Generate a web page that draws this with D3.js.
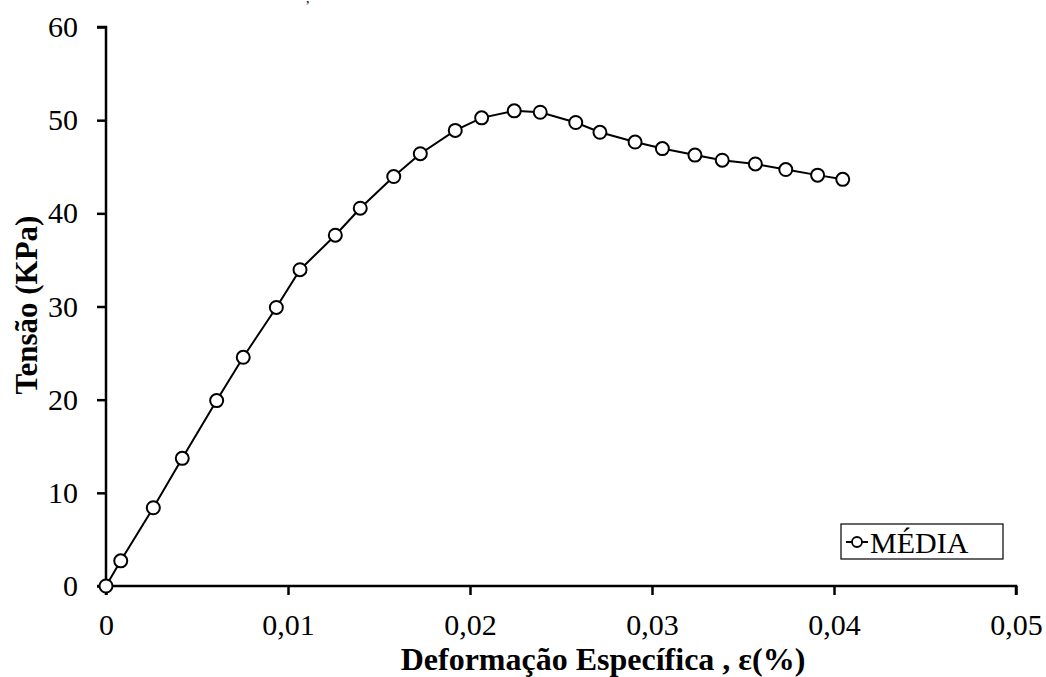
<!DOCTYPE html>
<html>
<head>
<meta charset="utf-8">
<script src="https://cdn.jsdelivr.net/npm/d3@7"></script>
<style>
  body { margin: 0; background: #fff; }
</style>
</head>
<body>
<div id="chart"></div>
<script>
// deformação específica (strain) and tensão (stress, KPa)
const strain = [0, 0.00081, 0.0026, 0.00419, 0.00608, 0.00754, 0.00936, 0.01066, 0.0126, 0.01397,
  0.01581, 0.01727, 0.01919, 0.02064, 0.02243, 0.02386, 0.02581, 0.02714, 0.02907, 0.03057,
  0.03236, 0.03386, 0.03568, 0.03735, 0.0391, 0.04048];
const stress = [0, 2.7, 8.4, 13.7, 19.9, 24.55, 29.9, 33.95, 37.65, 40.55,
  43.95, 46.4, 48.9, 50.25, 51.0, 50.85, 49.75, 48.7, 47.65, 46.95,
  46.25, 45.7, 45.3, 44.7, 44.1, 43.65];
const xTicks = [0, 0.01, 0.02, 0.03, 0.04, 0.05];
const yTicks = [0, 10, 20, 30, 40, 50, 60];
const seriesName = 'MÉDIA';

const data = strain.map((s, i) => ({ x: s, y: stress[i] }));

const W = 1046, H = 677;
const margin = { top: 27, right: 30, bottom: 91, left: 106 };
const width = W - margin.left - margin.right;
const height = H - margin.top - margin.bottom;
const font = '"Liberation Serif", "Times New Roman", serif';

const svg = d3.select('#chart').append('svg')
  .attr('width', W).attr('height', H)
  .style('font-family', font);

const g = svg.append('g').attr('transform', `translate(${margin.left},${margin.top})`);

const x = d3.scaleLinear().domain([0, 0.05]).range([0, width]);
const y = d3.scaleLinear().domain([0, 60]).range([height, 0]);

const fmt = d => d === 0 ? '0' : d3.format('.2f')(d).replace('.', ',');

g.append('g').attr('transform', `translate(0,${height})`)
  .call(d3.axisBottom(x).tickValues(xTicks).tickFormat(fmt).tickSize(9).tickPadding(19))
  .call(a => a.select('.domain').attr('stroke', '#000').attr('stroke-width', 2.5)
    .attr('d', `M0,9V0H${width}V9`))
  .call(a => a.selectAll('.tick line').attr('stroke', '#000').attr('stroke-width', 2.5))
  .call(a => a.selectAll('.tick text').attr('fill', '#000').attr('font-size', '30px').attr('font-family', font));

g.append('g')
  .call(d3.axisLeft(y).tickValues(yTicks).tickSize(9).tickPadding(19))
  .call(a => a.select('.domain').attr('stroke', '#000').attr('stroke-width', 2.5)
    .attr('d', `M-9,0H0V${height}H-9`))
  .call(a => a.selectAll('.tick line').attr('stroke', '#000').attr('stroke-width', 2.5))
  .call(a => a.selectAll('.tick text').attr('fill', '#000').attr('font-size', '30px').attr('font-family', font));

// axis titles
svg.append('text')
  .attr('x', 603).attr('y', 670)
  .attr('text-anchor', 'middle').attr('font-size', '32px').attr('font-weight', 'bold')
  .text('Deformação Específica , ε(%)');

svg.append('text')
  .attr('transform', 'translate(37,305) rotate(-90)')
  .attr('text-anchor', 'middle').attr('font-size', '31px').attr('font-weight', 'bold')
  .text('Tensão (KPa)');

// remnant of the title at the top edge
svg.append('text').attr('x', 306).attr('y', 3).attr('font-size', '14px').text(',');

// series
const line = d3.line().x(d => x(d.x)).y(d => y(d.y));
g.append('path').datum(data)
  .attr('fill', 'none').attr('stroke', '#000').attr('stroke-width', 2).attr('d', line);

g.selectAll('circle.pt').data(data).join('circle')
  .attr('class', 'pt')
  .attr('cx', d => x(d.x)).attr('cy', d => y(d.y))
  .attr('r', 6.5).attr('fill', '#fff').attr('stroke', '#000').attr('stroke-width', 2);

// legend
const lg = svg.append('g').attr('transform', 'translate(841,524)');
lg.append('rect').attr('width', 162).attr('height', 35)
  .attr('fill', '#fff').attr('stroke', '#000').attr('stroke-width', 1.2);
lg.append('line').attr('x1', 5).attr('x2', 27).attr('y1', 18).attr('y2', 18)
  .attr('stroke', '#000').attr('stroke-width', 2);
lg.append('circle').attr('cx', 16).attr('cy', 18).attr('r', 5)
  .attr('fill', '#fff').attr('stroke', '#000').attr('stroke-width', 1.8);
lg.append('text').attr('x', 29).attr('y', 29).attr('font-size', '30px').text(seriesName);
</script>
</body>
</html>
